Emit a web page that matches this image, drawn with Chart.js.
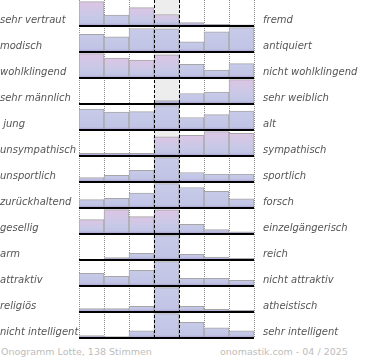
<!DOCTYPE html>
<html>
<head>
<meta charset="utf-8">
<script src="https://cdn.jsdelivr.net/npm/chart.js@4.4.1/dist/chart.umd.min.js"></script>
<style>
  html, body { margin: 0; padding: 0; background: #fff; }
  #wrap { position: relative; width: 370px; height: 360px; overflow: hidden; }
  #c { position: absolute; left: 0; top: 0; }
  .foot { position: absolute; top: 346px; font-family: 'DejaVu Sans', sans-serif; font-size: 9.5px; color: #bdbdbd; white-space: nowrap; line-height: 12px; }
</style>
</head>
<body>
<div id="wrap">
  <canvas id="c" width="370" height="340"></canvas>
  <div class="foot" style="left:1px;">Onogramm Lotte, 138 Stimmen</div>
  <div class="foot" style="left:220px;">onomastik.com - 04 / 2025</div>
</div>
<script>
const columns = ['1', '2', '3', '4', '5', '6', '7'];
const leftLabels = ['sehr vertraut', 'modisch', 'wohlklingend', 'sehr männlich', ' jung', 'unsympathisch', 'unsportlich', 'zurückhaltend', 'gesellig', 'arm', 'attraktiv', 'religiös', 'nicht intelligent'];
const rightLabels = ['fremd', 'antiquiert', 'nicht wohlklingend', 'sehr weiblich', 'alt', 'sympathisch', 'sportlich', 'forsch', 'einzelgängerisch', 'reich', 'nicht attraktiv', 'atheistisch', 'sehr intelligent'];

const vertraut = [100, 45, 75, 47, 14, 7, 5];
const modisch = [72, 62, 96, 95, 42, 83, 100];
const wohlklingend = [100, 81, 73, 95, 56, 32, 59];
const maennlich = [0, 0, 2, 14, 43, 49, 100];
const jung = [86, 73, 75, 100, 51, 63, 77];
const unsympathisch = [11, 11, 11, 78, 85, 100, 93];
const unsportlich = [18, 27, 48, 100, 39, 32, 32];
const zurueckhaltend = [34, 40, 61, 100, 84, 68, 38];
const gesellig = [59, 100, 71, 99, 40, 18, 9];
const arm = [3, 10, 27, 100, 23, 12, 7];
const attraktiv = [52, 40, 64, 100, 31, 31, 23];
const religioes = [14, 14, 23, 100, 23, 11, 7];
const intelligent = [10, 6, 29, 100, 64, 42, 29];

const rows = [vertraut, modisch, wohlklingend, maennlich, jung, unsympathisch, unsportlich, zurueckhaltend, gesellig, arm, attraktiv, religioes, intelligent];

// style: which bars show a pink top tint (row index -> column indexes)
const pinkTint = { 0: [0, 2, 3], 2: [0, 1, 2, 3], 3: [6], 5: [3, 4, 5, 6], 8: [0, 1, 2, 3] };

const N = rows.length;
const FILL = 0.94;

function barColor(c) {
  const chart = c.chart;
  const ys = chart.scales.y;
  const raw = c.raw;
  if (!raw || !ys || !chart.chartArea) return '#c5cae7';
  const top = ys.getPixelForValue(raw[1]);
  const bot = ys.getPixelForValue(raw[0]);
  if (!isFinite(top) || !isFinite(bot)) return '#c5cae7';
  const h = bot - top;
  if (h < 1) return '#aaa3d2';
  const pink = (pinkTint[c.datasetIndex] || []).indexOf(c.dataIndex) >= 0;
  const g = chart.ctx.createLinearGradient(0, top, 0, bot);
  const pStart = Math.max(0, 1 - 3 / h);
  g.addColorStop(0, pink ? '#dcc5e4' : '#c7cbe8');
  if (pink) g.addColorStop(Math.min(0.6, pStart), '#c8c9e7');
  g.addColorStop(pStart, '#c1c4e5');
  g.addColorStop(1, '#a39bcd');
  return g;
}

const datasets = rows.map((vals, i) => ({
  data: vals.map(v => [N - 1 - i, N - 1 - i + v / 100 * FILL]),
  backgroundColor: barColor,
  borderColor: '#a6a6a6',
  borderWidth: { top: 1, left: 1, right: 1, bottom: 0 },
  borderSkipped: 'start',
  grouped: false,
  barPercentage: 1,
  categoryPercentage: 1,
  xAxisID: 'x',
  yAxisID: 'y',
  order: 1
}));

datasets.push({
  data: columns.map((c, k) => k === 3 ? [0, N] : null),
  backgroundColor: '#ededed',
  borderWidth: 0,
  grouped: false,
  barPercentage: 1,
  categoryPercentage: 1,
  xAxisID: 'x',
  yAxisID: 'y',
  order: 10
});

const labelFont = { family: "'DejaVu Sans', sans-serif", size: 10, style: 'italic' };

function noPad(s) { s.paddingTop = 0; s.paddingBottom = 0; s.paddingLeft = 0; s.paddingRight = 0; }

new Chart(document.getElementById('c'), {
  type: 'bar',
  data: { labels: columns, datasets },
  options: {
    responsive: false,
    animation: false,
    events: [],
    layout: { padding: { top: 0, bottom: 2, left: 0, right: 0 } },
    plugins: { legend: { display: false }, tooltip: { enabled: false } },
    scales: {
      x: {
        type: 'category',
        offset: true,
        ticks: { display: false },
        grid: { offset: true, color: '#8a8a8a', lineWidth: 1, drawTicks: false, z: 0 },
        border: { display: false, dash: [1, 1] },
        afterFit: s => { s.height = 0; noPad(s); }
      },
      x2: {
        type: 'category',
        labels: columns,
        offset: true,
        ticks: { display: false },
        grid: {
          offset: true,
          color: ctx => (ctx.index === 3 || ctx.index === 4) ? '#000' : 'rgba(0,0,0,0)',
          lineWidth: 1, drawTicks: false, z: 2
        },
        border: { display: false, dash: [3, 2] },
        afterFit: s => { s.height = 0; noPad(s); }
      },
      y: {
        type: 'linear',
        position: 'left',
        min: 0, max: N,
        afterBuildTicks: s => { s.ticks = leftLabels.map((l, i) => ({ value: N - 1 - i + 0.23 })); },
        ticks: {
          autoSkip: false,
          crossAlign: 'far',
          padding: 0,
          color: '#555',
          font: labelFont,
          callback: (v, idx) => leftLabels[idx]
        },
        grid: { display: false, drawTicks: false },
        border: { display: false },
        afterFit: s => { s.width = 79; noPad(s); }
      },
      yr: {
        type: 'linear',
        position: 'right',
        min: 0, max: N,
        afterBuildTicks: s => { s.ticks = rightLabels.map((l, i) => ({ value: N - 1 - i + 0.23 })); },
        ticks: {
          autoSkip: false,
          crossAlign: 'near',
          padding: 9,
          color: '#555',
          font: labelFont,
          callback: (v, idx) => rightLabels[idx]
        },
        grid: { display: false, drawTicks: false },
        border: { display: false },
        afterFit: s => { s.width = 116; noPad(s); }
      },
      yg: {
        type: 'linear',
        position: 'left',
        min: 0, max: N,
        ticks: { display: false, stepSize: 1 },
        grid: {
          color: ctx => (ctx.tick && ctx.tick.value === N) ? 'rgba(0,0,0,0)' : '#000',
          lineWidth: 2, drawTicks: false, z: 1
        },
        border: { display: false },
        afterFit: s => { s.width = 0; noPad(s); }
      }
    }
  }
});
</script>
</body>
</html>
